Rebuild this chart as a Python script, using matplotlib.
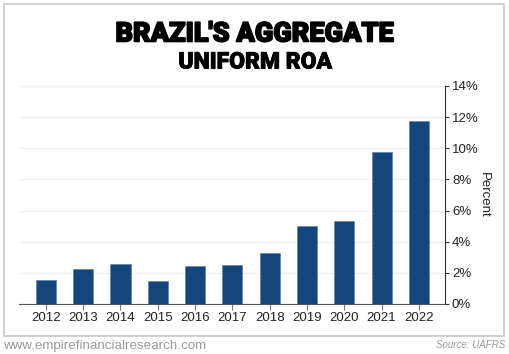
import matplotlib
matplotlib.use("Agg")
import matplotlib.pyplot as plt
import matplotlib.patheffects as pe
from matplotlib.patches import Rectangle
from matplotlib.ticker import FuncFormatter

# data
years = ["2012", "2013", "2014", "2015", "2016", "2017",
         "2018", "2019", "2020", "2021", "2022"]
roa = [1.54, 2.23, 2.57, 1.50, 2.42, 2.51, 3.26, 5.00, 5.34, 9.74, 11.77]
y_ticks = [0, 2, 4, 6, 8, 10, 12, 14]

bar_color = "#15467b"
text_color = "#222222"

fig = plt.figure(figsize=(5.1, 3.54), dpi=100)

# outer frame
fig.patches.append(Rectangle((4 / 510, 1 - 336 / 354), 500 / 510, 332 / 354,
                             transform=fig.transFigure, fill=False,
                             edgecolor="#c8c8c8", linewidth=1.2))

# titles
heavy = [pe.withStroke(linewidth=1.2, foreground="black")]
fig.text(0.5, 1 - 34 / 354, "BRAZIL'S AGGREGATE", ha="center", va="center",
         fontsize=19.5, fontweight="black", family="Roboto", color="black",
         path_effects=heavy)
fig.text(0.5, 1 - 62 / 354, "UNIFORM ROA", ha="center", va="center",
         fontsize=16.5, fontweight="black", family="Roboto", color="black",
         path_effects=[pe.withStroke(linewidth=0.6, foreground="black")])

# plot area
ax = fig.add_axes([19 / 510, 50 / 354, 426 / 510, 218 / 354])
x = range(len(years))
ax.bar(x, roa, width=0.54, color=bar_color, edgecolor="#5a7ca3",
       linewidth=0.4, zorder=3)

ax.set_xlim(-0.72, len(years) - 1 + 0.70)
ax.set_ylim(0, 14)
ax.set_xticks(list(x))
ax.set_xticklabels(years, fontsize=9.5, family="Liberation Sans",
                   color=text_color)
ax.set_yticks(y_ticks)
ax.yaxis.set_major_formatter(FuncFormatter(lambda v, p: f"{v:.0f}%"))
ax.yaxis.tick_right()
ax.yaxis.set_label_position("right")
for lab in ax.get_yticklabels():
    lab.set_fontsize(9.5)
    lab.set_family("Liberation Sans")
    lab.set_color(text_color)

ax.tick_params(axis="x", length=4, width=0.8, color="#777777", pad=2)
ax.tick_params(axis="y", length=3, width=0.8, color="#333333", pad=2)

ax.set_ylabel("Percent", rotation=-90, labelpad=8, fontsize=9.5,
              family="Liberation Sans", color=text_color)

ax.grid(axis="y", color="#eeeeee", linewidth=1, zorder=0)
for s in ["top", "left"]:
    ax.spines[s].set_visible(False)
ax.spines["bottom"].set_color("#555555")
ax.spines["right"].set_color("#333333")

# footer
fig.text(3 / 510, 1 - 346 / 354, "www.empirefinancialresearch.com",
         ha="left", va="center", fontsize=9.6, family="Liberation Sans",
         color="#9a9a9a")
fig.text(505 / 510, 1 - 345 / 354, "Source: UAFRS", ha="right", va="center",
         fontsize=7, family="Liberation Sans", style="italic", color="#9a9a9a")

fig.savefig("out.png", dpi=100)
